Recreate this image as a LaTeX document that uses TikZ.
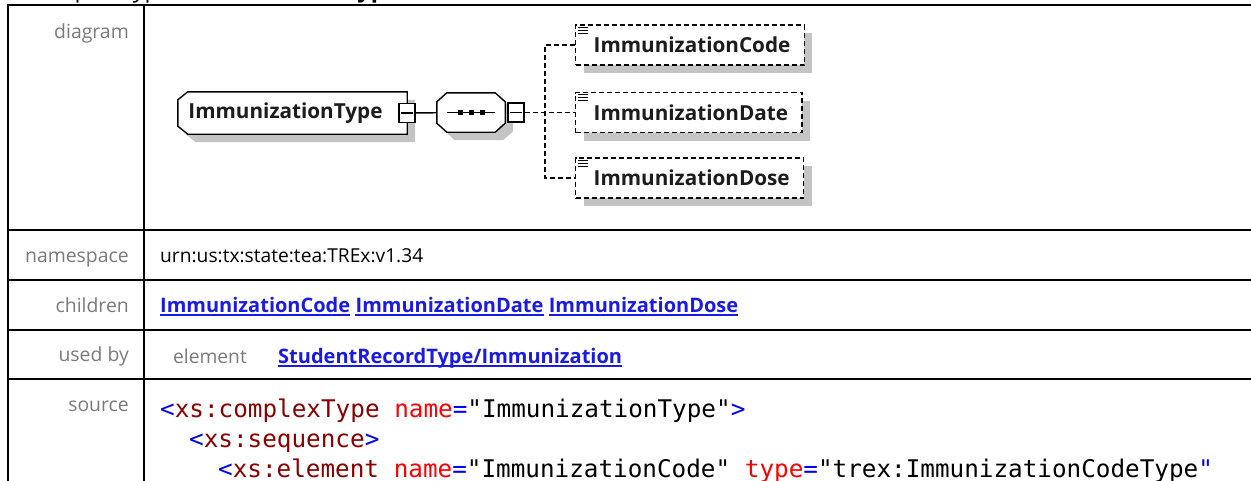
\documentclass[tikz,border=0pt]{standalone}
\usepackage{fontspec}
\setmainfont{Open Sans}
\newfontfamily\codefont{DejaVu Sans Mono}
\usetikzlibrary{positioning,shadows,calc,backgrounds}
\definecolor{labelgray}{HTML}{7A7A7A}
\definecolor{linkblue}{HTML}{1A1AE6}
\definecolor{shade}{HTML}{C4C4C4}
\definecolor{ink}{HTML}{1C1C1C}
\definecolor{xbrack}{HTML}{0000FF}
\definecolor{xname}{HTML}{8B0000}
\definecolor{xattr}{HTML}{FF0000}
\newcommand{\xb}[1]{\textcolor{xbrack}{#1}}
\newcommand{\xn}[1]{\textcolor{xname}{#1}}
\newcommand{\xa}[1]{\textcolor{xattr}{#1}}

\begin{document}
\begin{tikzpicture}[x=1pt,y=-1pt,
 grid/.style={line width=2pt},
 lbl/.style={anchor=base east,inner sep=0,text=labelgray,font=\fontsize{19.4}{22}\selectfont},
 val/.style={anchor=base west,inner sep=0,font=\fontsize{19.2}{22}\selectfont},
 link/.style={anchor=base west,inner sep=0,text=linkblue,font=\bfseries\fontsize{20}{22}\selectfont},
 src/.style={anchor=base west,inner sep=0,font=\codefont\fontsize{24.3}{28}\selectfont},
 shad/.style={drop shadow={shadow xshift=8pt,shadow yshift=-8pt,fill=shade,opacity=1}},
 outline/.style={draw,fill=white,line width=1.4pt,shad},
 typebox/.style={text=ink,font=\bfseries\fontsize{20.7}{22}\selectfont,minimum width=229pt,minimum height=42pt,inner sep=0},
 seqbox/.style={minimum width=68pt,minimum height=39pt,inner sep=0},
 sw/.style={draw,fill=white,line width=1.4pt,minimum width=16pt,minimum height=19pt,inner sep=0,path picture={\draw[line width=1.4pt] ([xshift=2pt]path picture bounding box.west) -- ([xshift=-2pt]path picture bounding box.east);}},
 elem/.style={draw,dash pattern=on 5pt off 3pt,fill=white,line width=1.4pt,shad,text=ink,font=\bfseries\fontsize{20.7}{22}\selectfont,minimum height=40pt,inner xsep=14pt,inner ysep=0,anchor=west},
 solidlink/.style={line width=1.4pt},
 dashlink/.style={line width=1.4pt,dash pattern=on 5pt off 3pt}
]
\useasboundingbox (0,0) rectangle (1251,480);
\node[anchor=base west,inner sep=0,font=\fontsize{23.6}{26}\selectfont] (title) at (27,-2.5) {complexType \textbf{ImmunizationType}};
\draw[grid] (8,495) -- (8,5) -- (1265,5);
\draw[grid] (144,5) -- (144,495);
\foreach \y in {230,280,330,379}{\draw[grid] (8,\y) -- (1265,\y);}
\node[lbl] (ldiag) at (129,38) {diagram};
\node[lbl] (lns) at (129,262) {namespace};
\node[lbl] (lch) at (129,312) {children};
\node[lbl] (lused) at (129,361) {used by};
\node[lbl] (lsrc) at (129,411) {source};
\node[val] (ns) at (160,262) {urn:us:tx:state:tea:TREx:v1.34};
\node[link] (ch1) at (160,312) {ImmunizationCode};
\node[link,base right=5pt of ch1] (ch2) {ImmunizationDate};
\node[link,base right=5pt of ch2] (ch3) {ImmunizationDose};
\node[val,text=labelgray] (uel) at (173,363) {element};
\node[link] (ulink) at (278,363) {StudentRecordType/Immunization};
\foreach \n in {ch1,ch2,ch3,ulink}{\draw[linkblue,line width=1.5pt] ([yshift=-3pt]\n.base west) -- ([yshift=-3pt]\n.base east);}
\node[src] (src1) at (160,417) {\xb{<}\xn{xs:complexType} \xa{name}\xb{=}"ImmunizationType"\xb{>}};
\node[src] (src2) at (189,447) {\xb{<}\xn{xs:sequence}\xb{>}};
\node[src] (src3) at (218,477) {\xb{<}\xn{xs:element} \xa{name}\xb{=}"ImmunizationCode" \xa{type}\xb{=}"trex:ImmunizationCodeType\xb{"}};
\node[typebox] (itype) at (292.5,113) {ImmunizationType\hspace*{14pt}};
\node[seqbox] (seq) at (471,112.5) {};
\begin{scope}[on background layer]
\draw[outline] ([xshift=10pt]itype.north west) -- (itype.north east) -- (itype.south east) -- ([xshift=10pt]itype.south west) -- ([yshift=8pt]itype.south west) -- ([yshift=-8pt]itype.north west) -- cycle;
\draw[outline] ([xshift=10pt]seq.north west) -- ([xshift=-10pt]seq.north east) -- ([yshift=-9pt]seq.north east) -- ([yshift=9pt]seq.south east) -- ([xshift=-10pt]seq.south east) -- ([xshift=10pt]seq.south west) -- ([yshift=9pt]seq.south west) -- ([yshift=-9pt]seq.north west) -- cycle;
\end{scope}
\node[sw] (itypesw) at (407,113) {};
\draw[solidlink] ([xshift=10pt]seq.west) -- ([xshift=-10pt]seq.east);
\foreach \dx in {-11,0,11}{\fill ([xshift=\dx pt]seq.center) +(-2.5,-2.5) rectangle +(2.5,2.5);}
\node[sw] (seqsw) at (516,112.5) {};
\node[elem] (code) at (575,45) {\hspace*{4pt}ImmunizationCode};
\node[elem] (date) at (575,112.5) {\hspace*{4pt}ImmunizationDate};
\node[elem] (dose) at (575,178) {\hspace*{4pt}ImmunizationDose};
\foreach \n in {code,date,dose}{\foreach \k in {0,1,2}{\draw[line width=1pt] ($(\n.north west)+(3,3+3*\k)$) -- ++(10,0);}}
\coordinate (bus) at (545,112.5);
\draw[solidlink] (itypesw) -- (seq);
\draw[dashlink] (seqsw) -- (date);
\draw[dashlink] (code.west) -| (bus) |- (dose.west);
\end{tikzpicture}
\end{document}
